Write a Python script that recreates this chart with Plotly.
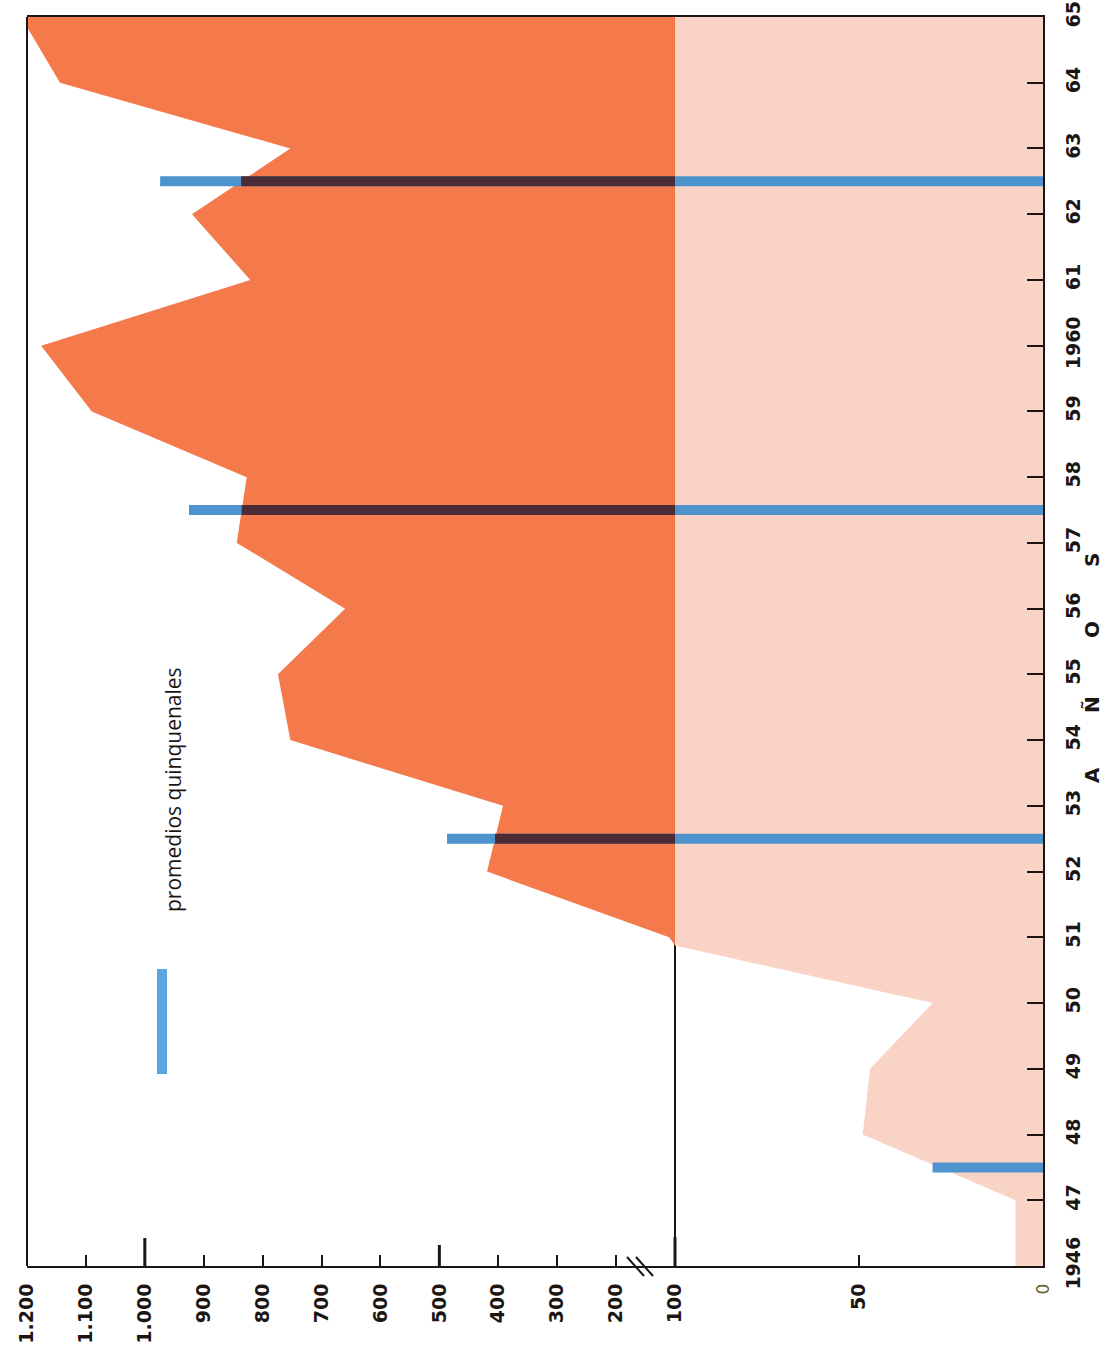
import numpy as np
import plotly.graph_objects as go

# ---------------- data ----------------
anios = list(range(1946, 1966))
valores = [7.5, 7.5, 49, 47, 30, 110, 419, 392, 753, 774,
           660, 844, 827, 1090, 1176, 821, 920, 753, 1144, 1210]

anios_promedio = [1947.5, 1952.5, 1957.5, 1962.5]
promedios = [30, 487, 925, 974]

ticks_bajos = [0, 50, 100]
ticks_bajos_txt = ["<span style='font-size:17px;font-weight:normal;"
                   "color:#6b6030'>0</span>", "50", "100"]
ticks_altos = [200, 300, 400, 500, 600, 700, 800, 900, 1000, 1100, 1200]
ticks_altos_txt = ["200", "300", "400", "500", "600", "700", "800", "900",
                   "1.000", "1.100", "1.200"]
anios_txt = ["1946", "47", "48", "49", "50", "51", "52", "53", "54", "55",
             "56", "57", "58", "59", "1960", "61", "62", "63", "64", "65"]

# ---------------- style ----------------
W, H = 1117, 1362
L, R, T, B = 27, 1043, 17, 1266  # plot frame in screen pixels
PW, PH = R - L, B - T
SPLIT = (675 - L) / PW           # paper x of the value 100 (axis break)

ROJO = "#F47A4C"
ROSA = "#F9D4C6"
AZUL = "#4D93CD"
AZUL_LEY = "#5AA6E0"
OSCURO = "#4A2B36"
NEGRO = "#1b1613"
TICKFONT = dict(family="DejaVu Sans", size=19, color=NEGRO, weight="bold")


def px(x):
    return (x - L) / PW


def py(y):
    return (B - y) / PH


fig = go.Figure()

# pink area (0-100 part of the axis)
fig.add_trace(go.Scatter(x=valores, y=anios, xaxis="x", yaxis="y",
                         mode="lines", line=dict(width=0, color=ROSA),
                         fill="tozerox", fillcolor=ROSA, hoverinfo="skip"))
# average bars in the lower part
bx, by = [], []
for a, v in zip(anios_promedio, promedios):
    bx += [0, v, None]
    by += [a, a, None]
fig.add_trace(go.Scatter(x=bx, y=by, xaxis="x", yaxis="y", mode="lines",
                         line=dict(width=10, color=AZUL), hoverinfo="skip"))

# red area (100-1200 part of the axis)
fig.add_trace(go.Scatter(x=valores, y=anios, xaxis="x2", yaxis="y",
                         mode="lines", line=dict(width=0, color=ROJO),
                         fill="tozerox", fillcolor=ROJO, hoverinfo="skip"))
fig.add_trace(go.Scatter(x=bx, y=by, xaxis="x2", yaxis="y", mode="lines",
                         line=dict(width=10, color=AZUL), hoverinfo="skip"))
# dark part where the bars cross the red area
curva = np.interp(anios_promedio, anios, valores)
dx, dy = [], []
for a, c in zip(anios_promedio, curva):
    if c > 100:
        dx += [0, c, None]
        dy += [a, a, None]
fig.add_trace(go.Scatter(x=dx, y=dy, xaxis="x2", yaxis="y", mode="lines",
                         line=dict(width=10, color=OSCURO), hoverinfo="skip"))

axis_common = dict(showgrid=False, zeroline=False, showline=True,
                   linecolor=NEGRO, linewidth=2, ticks="inside",
                   ticklen=11, tickwidth=2, tickcolor=NEGRO,
                   tickangle=-90, tickfont=TICKFONT, mirror=True,
                   anchor="y", ticklabelstandoff=8, automargin=False,
                   ticklabeloverflow="allow")

fig.update_layout(
    width=W, height=H,
    margin=dict(l=L, r=W - R, t=T, b=H - B, autoexpand=False),
    paper_bgcolor="white", plot_bgcolor="rgba(0,0,0,0)",
    showlegend=False,
    xaxis=dict(domain=[SPLIT, 1], range=[100, 0], tickmode="array",
               tickvals=ticks_bajos, ticktext=ticks_bajos_txt, **axis_common),
    xaxis2=dict(domain=[0, SPLIT], range=[1200, 100], tickmode="array",
                tickvals=ticks_altos, ticktext=ticks_altos_txt, **axis_common),
    yaxis=dict(domain=[0, 1], range=[1946, 1965], side="right", anchor="x",
               tickmode="array", tickvals=anios, ticktext=anios_txt,
               showgrid=False, zeroline=False, showline=True,
               linecolor=NEGRO, linewidth=2, ticks="inside", ticklen=16,
               tickwidth=2, tickcolor=NEGRO, tickangle=-90,
               tickfont=TICKFONT, ticklabelstandoff=12, automargin=False,
               ticklabeloverflow="allow"),
)

shapes = []
# line at 100 (visible only where the curve is below 100)
shapes.append(dict(type="line", xref="paper", yref="y", x0=SPLIT, x1=SPLIT,
                   y0=1946, y1=1965, line=dict(color=NEGRO, width=2),
                   layer="below"))
# thicker tick at 100
shapes.append(dict(type="line", xref="paper", yref="paper", x0=SPLIT,
                   x1=SPLIT, y0=0, y1=py(1237),
                   line=dict(color=NEGRO, width=3)))
# long ticks at 500 and 1000
for v, top in [(500, 1245), (1000, 1238)]:
    shapes.append(dict(type="line", xref="x2", yref="paper", x0=v, x1=v,
                       y0=0, y1=py(top), line=dict(color=NEGRO, width=3)))
# left frame
shapes.append(dict(type="line", xref="paper", yref="paper", x0=0, x1=0,
                   y0=0, y1=1, line=dict(color=NEGRO, width=2)))
# axis break mark
for x0 in (627, 636):
    shapes.append(dict(type="line", xref="paper", yref="paper",
                       x0=px(x0), x1=px(x0 + 17), y0=py(1257), y1=py(1276),
                       line=dict(color=NEGRO, width=2)))
# legend bar
shapes.append(dict(type="line", xref="paper", yref="paper",
                   x0=px(162), x1=px(162), y0=py(1074), y1=py(969),
                   line=dict(color=AZUL_LEY, width=10)))
fig.update_layout(shapes=shapes)

ann = []
ann.append(dict(xref="paper", yref="paper", x=px(157), y=py(790),
                text="promedios quinquenales", textangle=-90,
                showarrow=False,
                font=dict(family="Open Sans", size=21, color=NEGRO,
                          weight=500)))
for letra, yy in [("A", 775), ("Ñ", 705), ("O", 630), ("S", 560)]:
    ann.append(dict(xref="paper", yref="paper", x=px(1106), y=py(yy),
                    text=letra, textangle=-90, showarrow=False,
                    font=dict(family="DejaVu Sans", size=20, color=NEGRO,
                              weight="bold")))
fig.update_layout(annotations=ann)

# remove the default page margin so the figure fills the window exactly
fig.write_html("out.html",
               config={"displayModeBar": False},
               post_script="document.body.style.margin='0';"
                           "document.body.style.overflow='hidden';")
